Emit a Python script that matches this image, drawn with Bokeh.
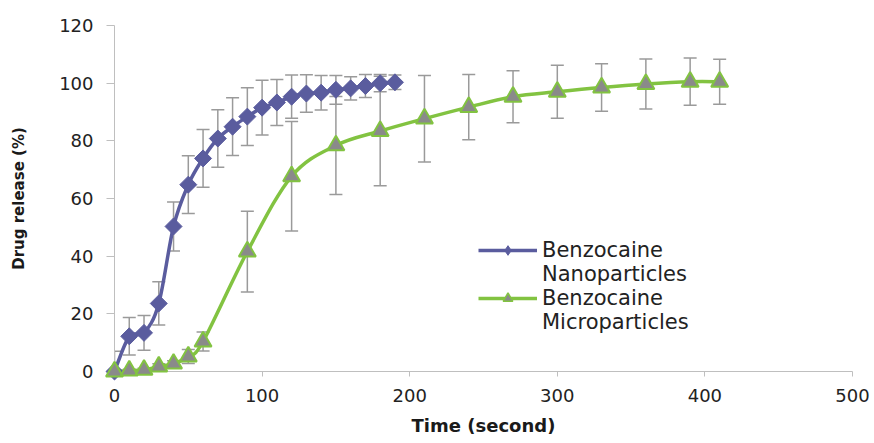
import numpy as np
from bokeh.plotting import figure
from bokeh.models import (ColumnDataSource, Whisker, TeeHead, Legend, LegendItem,
                          FixedTicker, Range1d)
from bokeh.embed import file_html
from bokeh.resources import INLINE

# ---- data ----
nano_time = [0, 10, 20, 30, 40, 50, 60, 70, 80, 90, 100, 110, 120, 130, 140, 150, 160, 170, 180, 190]
nano_release = [0, 12.2, 13.4, 23.6, 50.3, 64.8, 73.9, 80.8, 84.9, 88.4, 91.5, 93.3, 95.3, 96.4, 96.7, 97.7, 98.2, 99.0, 100.0, 100.3]
nano_err = [7, 6.5, 6, 7.5, 8.5, 10, 10, 10, 10, 10, 9.5, 8, 7.5, 6.5, 6, 5, 4, 4, 3, 2.5]

micro_time = [0, 10, 20, 30, 40, 50, 60, 90, 120, 150, 180, 210, 240, 270, 300, 330, 360, 390, 410]
micro_release = [0, 0.3, 0.6, 1.7, 2.7, 5.2, 10.4, 41.6, 67.7, 78.4, 83.4, 87.7, 91.7, 95.3, 97.0, 98.5, 99.7, 100.5, 100.5]
micro_err = [0, 0.5, 0.5, 1, 1, 2.4, 3.3, 14, 19, 17, 19, 15, 11.3, 9, 9.2, 8.2, 8.7, 8.2, 7.8]

x_ticks = [0, 100, 200, 300, 400, 500]
y_ticks = [0, 20, 40, 60, 80, 100, 120]

legend_lines = ["Benzocaine", "Nanoparticles", "Benzocaine", "Microparticles"]

NANO_COLOR = "#5A5C9E"
MICRO_COLOR = "#82C341"
MARKER_GRAY = "#8A8A8A"
ERR_COLOR = "#9A9A9A"
AXIS_GRAY = "#BFBFBF"


def smooth_bezier(xs, ys):
    """Catmull-Rom style control points so the line looks smoothed (as in Excel)."""
    xs = np.asarray(xs, float)
    ys = np.asarray(ys, float)
    n = len(xs)
    px = np.concatenate([[xs[0]], xs, [xs[-1]]])
    py = np.concatenate([[ys[0]], ys, [ys[-1]]])
    d = dict(x0=[], y0=[], x1=[], y1=[], cx0=[], cy0=[], cx1=[], cy1=[])
    for i in range(n - 1):
        j = i + 1
        d["x0"].append(px[j]); d["y0"].append(py[j])
        d["x1"].append(px[j + 1]); d["y1"].append(py[j + 1])
        d["cx0"].append(px[j] + (px[j + 1] - px[j - 1]) / 6.0)
        d["cy0"].append(py[j] + (py[j + 1] - py[j - 1]) / 6.0)
        d["cx1"].append(px[j + 1] - (px[j + 2] - px[j]) / 6.0)
        d["cy1"].append(py[j + 1] - (py[j + 2] - py[j]) / 6.0)
    return ColumnDataSource(d)


p = figure(width=874, height=443, output_backend="svg", toolbar_location=None,
           x_range=Range1d(0, 500), y_range=Range1d(0, 120),
           min_border_left=114, min_border_right=22, min_border_top=25, min_border_bottom=72)
p.outline_line_color = None
p.xgrid.grid_line_color = None
p.ygrid.grid_line_color = None
p.background_fill_color = "white"
p.border_fill_color = "white"

# ---- error bars ----
nano_src = ColumnDataSource(dict(
    t=nano_time, y=nano_release,
    upper=[v + e for v, e in zip(nano_release, nano_err)],
    lower=[max(v - e, 0) for v, e in zip(nano_release, nano_err)]))
micro_src = ColumnDataSource(dict(
    t=micro_time, y=micro_release,
    upper=[v + e for v, e in zip(micro_release, micro_err)],
    lower=[max(v - e, 0) for v, e in zip(micro_release, micro_err)]))

for src in (nano_src, micro_src):
    w = Whisker(source=src, base="t", upper="upper", lower="lower", dimension="height",
                line_color=ERR_COLOR, line_width=1.5,
                upper_head=TeeHead(size=13, line_color=ERR_COLOR, line_width=1.5),
                lower_head=TeeHead(size=13, line_color=ERR_COLOR, line_width=1.5))
    p.add_layout(w)

# ---- smoothed lines ----
nano_curve = p.bezier(source=smooth_bezier(nano_time, nano_release), x0="x0", y0="y0", x1="x1", y1="y1",
                      cx0="cx0", cy0="cy0", cx1="cx1", cy1="cy1",
                      line_color=NANO_COLOR, line_width=3.5, line_cap="round")
micro_curve = p.bezier(source=smooth_bezier(micro_time, micro_release), x0="x0", y0="y0", x1="x1", y1="y1",
                       cx0="cx0", cy0="cy0", cx1="cx1", cy1="cy1",
                       line_color=MICRO_COLOR, line_width=3.5, line_cap="round")
nano_curve.level = "overlay"
micro_curve.level = "overlay"

# ---- markers ----
nano_pts = p.scatter(x="t", y="y", source=nano_src, marker="square", angle=np.pi / 4, size=12,
                     fill_color=NANO_COLOR, line_color=NANO_COLOR, line_width=1)
micro_pts = p.scatter(x="t", y="y", source=micro_src, marker="triangle", size=17,
                      fill_color=MARKER_GRAY, line_color=MICRO_COLOR, line_width=2)
nano_pts.level = "overlay"
micro_pts.level = "overlay"

# legend stand-ins (a single NaN point: nothing drawn on the plot)
nan = [np.nan]
nano_leg_line = p.line(x=nan, y=nan, line_color=NANO_COLOR, line_width=3.5)
nano_leg_mark = p.scatter(x=nan, y=nan, marker="diamond", size=10,
                          fill_color=NANO_COLOR, line_color=NANO_COLOR)
micro_leg_line = p.line(x=nan, y=nan, line_color=MICRO_COLOR, line_width=3.5)
micro_leg_mark = p.scatter(x=nan, y=nan, marker="triangle", size=10,
                           fill_color=MARKER_GRAY, line_color=MICRO_COLOR, line_width=1.5)
blank = p.line(x=nan, y=nan, line_alpha=0)

legend = Legend(items=[
    LegendItem(label=legend_lines[0], renderers=[nano_leg_line, nano_leg_mark]),
    LegendItem(label=legend_lines[1], renderers=[blank]),
    LegendItem(label=legend_lines[2], renderers=[micro_leg_line, micro_leg_mark]),
    LegendItem(label=legend_lines[3], renderers=[blank]),
], location=(364, 37), padding=0, margin=0, spacing=0, glyph_width=59, glyph_height=24,
    label_height=24, label_standoff=5, border_line_alpha=0, background_fill_alpha=0,
    label_text_font="DejaVu Sans", label_text_font_size="21px", label_text_color="#222222",
    label_text_line_height=1.15)
p.add_layout(legend)

# ---- axes ----
for ax in (p.xaxis, p.yaxis):
    ax.axis_line_color = AXIS_GRAY
    ax.major_tick_line_color = AXIS_GRAY
    ax.minor_tick_line_color = None
    ax.major_tick_in = 0
    ax.major_label_text_font = "DejaVu Sans"
    ax.major_label_text_font_size = "18px"
    ax.major_label_text_color = "#222222"
    ax.axis_label_text_font = "DejaVu Sans"
    ax.axis_label_text_font_style = "bold"
    ax.axis_label_text_color = "#1a1a1a"

p.xaxis.ticker = FixedTicker(ticks=x_ticks)
p.yaxis.ticker = FixedTicker(ticks=y_ticks)
p.xaxis.major_tick_out = 5
p.yaxis.major_tick_out = 8
p.xaxis.major_label_standoff = 12
p.yaxis.major_label_standoff = 13
p.xaxis.axis_label = "Time (second)"
p.yaxis.axis_label = "Drug release (%)"
p.xaxis.axis_label_text_font_size = "18px"
p.yaxis.axis_label_text_font_size = "15px"
p.xaxis.axis_label_standoff = 10
p.yaxis.axis_label_standoff = 28

open("out.html", "w").write(file_html(p, INLINE))
